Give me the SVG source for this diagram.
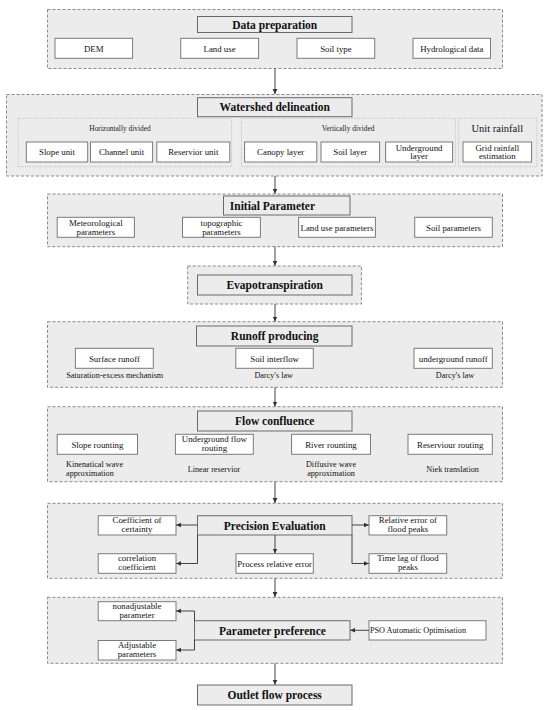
<svg xmlns="http://www.w3.org/2000/svg" width="550" height="710" viewBox="0 0 550 710">
<defs>
<marker id="ah" markerWidth="6" markerHeight="6" refX="5" refY="3" orient="auto" markerUnits="userSpaceOnUse">
<path d="M0,0.6 L5,3 L0,5.4 z" fill="#333"/>
</marker>
<style>
.outer{fill:#ececec;stroke:#8a8a8a;stroke-width:1;stroke-dasharray:3 2}
.grp{fill:#ececec;stroke:#b4b4b4;stroke-width:0.9;stroke-dasharray:1 1.5}
.title{fill:#ececec;stroke:#6a6a6a;stroke-width:1}
.box{fill:#ffffff;stroke:#7a7a7a;stroke-width:1}
.tt{font-family:"Liberation Serif",serif;font-weight:bold;font-size:11.5px;fill:#111;text-anchor:middle}
.t{font-family:"Liberation Serif",serif;font-size:8.8px;fill:#111;text-anchor:middle}
.s{font-family:"Liberation Serif",serif;font-size:8.2px;fill:#111;text-anchor:middle}
.g{font-family:"Liberation Serif",serif;font-size:7.4px;fill:#222;text-anchor:middle}
.u{font-family:"Liberation Serif",serif;font-size:10.5px;fill:#111;text-anchor:middle}
.conn{stroke:#444;stroke-width:1;fill:none}
</style>
</defs>
<rect width="550" height="710" fill="#ffffff"/>

<!-- 1 Data preparation -->
<g id="data-preparation">
<rect class="outer" x="47.5" y="9.5" width="455" height="59"/>
<rect class="title" x="197.5" y="16.5" width="154.5" height="16"/>
<text class="tt" x="274.7" y="28.5">Data preparation</text>
</g>
<g id="dem"><rect class="box" x="55" y="38.3" width="77.6" height="20"/><text class="t" x="93.8" y="51.5">DEM</text></g>
<g id="land-use"><rect class="box" x="180.7" y="38.3" width="77.9" height="20"/><text class="t" x="219.6" y="51.5">Land use</text></g>
<g id="soil-type"><rect class="box" x="297" y="38.3" width="77.7" height="20"/><text class="t" x="335.9" y="51.5">Soil type</text></g>
<g id="hydrological-data"><rect class="box" x="413" y="38.3" width="77.5" height="20"/><text class="t" x="451.8" y="51.5">Hydrological data</text></g>

<!-- 2 Watershed delineation -->
<g id="watershed-delineation">
<rect class="outer" x="6.5" y="94.5" width="535.5" height="81.5"/>
<rect class="title" x="197.5" y="97.7" width="154.5" height="19"/>
<text class="tt" x="274.7" y="111.2">Watershed delineation</text>
</g>
<g id="horizontally-divided">
<rect class="grp" x="18.2" y="118.3" width="213.4" height="48.4"/>
<text class="g" x="120" y="131">Horizontally divided</text>
</g>
<g id="vertically-divided">
<rect class="grp" x="241.4" y="118.3" width="214" height="48.4"/>
<text class="g" x="348" y="131">Vertically divided</text>
</g>
<g id="unit-rainfall">
<rect class="grp" x="458.6" y="118.3" width="78.2" height="48.4"/>
<text class="u" x="497.3" y="131.8">Unit rainfall</text>
</g>
<g id="slope-unit"><rect class="box" x="26.3" y="142" width="61.4" height="20"/><text class="t" x="57" y="155.2">Slope unit</text></g>
<g id="channel-unit"><rect class="box" x="90.5" y="142" width="62.1" height="20"/><text class="t" x="121.5" y="155.2">Channel unit</text></g>
<g id="reservior-unit"><rect class="box" x="156.8" y="142" width="73" height="20"/><text class="t" x="193.3" y="155.2">Reservior unit</text></g>
<g id="canopy-layer"><rect class="box" x="244.6" y="142" width="72.2" height="20"/><text class="t" x="280.7" y="155.2">Canopy layer</text></g>
<g id="soil-layer"><rect class="box" x="321" y="142" width="58.6" height="20"/><text class="t" x="350.3" y="155.2">Soil layer</text></g>
<g id="underground-layer"><rect class="box" x="385.6" y="142" width="67" height="20"/><text class="t" x="419.1" y="150.6">Underground</text><text class="t" x="419.1" y="159.4">layer</text></g>
<g id="grid-rainfall"><rect class="box" x="463" y="142" width="68.6" height="20"/><text class="t" x="497.3" y="150.6">Grid rainfall</text><text class="t" x="497.3" y="159.4">estimation</text></g>

<!-- 3 Initial Parameter -->
<g id="initial-parameter">
<rect class="outer" x="47.5" y="194" width="455" height="52.7"/>
<rect class="title" x="223.5" y="196" width="126.5" height="19"/>
<text class="tt" x="229.8" y="209.5" style="text-anchor:start">Initial Parameter</text>
</g>
<g id="meteorological-parameters"><rect class="box" x="57.2" y="217.3" width="77.2" height="20"/><text class="t" x="95.8" y="226">Meteorological</text><text class="t" x="95.8" y="234.8">parameters</text></g>
<g id="topographic-parameters"><rect class="box" x="182.5" y="217.3" width="77.9" height="20"/><text class="t" x="221.5" y="226">topographic</text><text class="t" x="221.5" y="234.8">parameters</text></g>
<g id="land-use-parameters"><rect class="box" x="298.6" y="217.3" width="76.8" height="20"/><text class="t" x="337" y="230.5">Land use parameters</text></g>
<g id="soil-parameters"><rect class="box" x="414.7" y="217.3" width="77.6" height="20"/><text class="t" x="453.5" y="230.5">Soil parameters</text></g>

<!-- 4 Evapotranspiration -->
<g id="evapotranspiration">
<rect class="outer" x="187.7" y="266" width="173.7" height="38"/>
<rect class="title" x="197.5" y="275" width="154.5" height="20"/>
<text class="tt" x="274.7" y="289">Evapotranspiration</text>
</g>

<!-- 5 Runoff producing -->
<g id="runoff-producing">
<rect class="outer" x="47.5" y="321.7" width="455" height="65.6"/>
<rect class="title" x="196.5" y="326" width="155.5" height="20"/>
<text class="tt" x="274.7" y="340">Runoff producing</text>
</g>
<g id="surface-runoff"><rect class="box" x="75.4" y="348.3" width="77.9" height="20"/><text class="t" x="114.4" y="361.5">Surface runoff</text><text class="s" x="114.7" y="378">Saturation-excess mechanism</text></g>
<g id="soil-interflow"><rect class="box" x="235.8" y="348.3" width="77.5" height="20"/><text class="t" x="274.6" y="361.5">Soil interflow</text><text class="s" x="273.7" y="378">Darcy's law</text></g>
<g id="underground-runoff"><rect class="box" x="414" y="348.3" width="78.3" height="20"/><text class="t" x="453.2" y="361.5">underground runoff</text><text class="s" x="455" y="378">Darcy's law</text></g>

<!-- 6 Flow confluence -->
<g id="flow-confluence">
<rect class="outer" x="47.5" y="406.7" width="455" height="75"/>
<rect class="title" x="197.5" y="411" width="154.5" height="20"/>
<text class="tt" x="274.7" y="425">Flow confluence</text>
</g>
<g id="slope-rounting"><rect class="box" x="57.2" y="434.3" width="80.3" height="20"/><text class="t" x="97.4" y="447.5">Slope rounting</text><text class="s" x="66" y="467.3" style="text-anchor:start">Kinenatical wave</text><text class="s" x="66" y="476.3" style="text-anchor:start">approximation</text></g>
<g id="underground-flow-routing"><rect class="box" x="175.4" y="434.3" width="77.9" height="20"/><text class="t" x="214.4" y="442.4">Underground flow</text><text class="t" x="214.4" y="451.3">routing</text><text class="s" x="214" y="472">Linear reservior</text></g>
<g id="river-rounting"><rect class="box" x="291.6" y="434.3" width="78.9" height="20"/><text class="t" x="331" y="447.5">River rounting</text><text class="s" x="331" y="467.3">Diffusive wave</text><text class="s" x="331" y="476.3">approximation</text></g>
<g id="reserviour-routing"><rect class="box" x="408" y="434.3" width="84.3" height="20"/><text class="t" x="450.2" y="447.5">Reserviour routing</text><text class="s" x="452.6" y="472">Niek translation</text></g>

<!-- 7 Precision Evaluation -->
<g id="precision-evaluation">
<rect class="outer" x="47.5" y="503.3" width="455" height="75"/>
<rect class="title" x="197.5" y="515.7" width="154.5" height="19.3"/>
<text class="tt" x="274.7" y="529.5">Precision Evaluation</text>
</g>
<g id="coefficient-of-certainty"><rect class="box" x="98.2" y="515.7" width="77.8" height="19.3"/><text class="t" x="137" y="523.2">Coefficient of</text><text class="t" x="137" y="532">certainty</text></g>
<g id="relative-error"><rect class="box" x="369" y="515.7" width="77.7" height="19.3"/><text class="t" x="407.9" y="523.2">Relative error of</text><text class="t" x="407.9" y="532">flood peaks</text></g>
<g id="correlation-coefficient"><rect class="box" x="98.2" y="553.7" width="77.8" height="19.6"/><text class="t" x="137" y="561.3">correlation</text><text class="t" x="137" y="570.1">coefficient</text></g>
<g id="process-relative-error"><rect class="box" x="236" y="553.7" width="77.3" height="19.6"/><text class="t" x="274.7" y="566.6">Process relative error</text></g>
<g id="time-lag"><rect class="box" x="369" y="553.7" width="77.7" height="19.6"/><text class="t" x="407.9" y="561.3">Time lag of flood</text><text class="t" x="407.9" y="570.1">peaks</text></g>

<!-- 8 Parameter preference -->
<g id="parameter-preference">
<rect class="outer" x="47.5" y="597.3" width="455" height="66"/>
<rect class="title" x="194.5" y="620.7" width="155.5" height="19.3"/>
<text class="tt" x="272.5" y="634.5">Parameter preference</text>
</g>
<g id="nonadjustable-parameter"><rect class="box" x="98.2" y="601.7" width="77.8" height="19"/><text class="t" x="137" y="609">nonadjustable</text><text class="t" x="137" y="617.8">parameter</text></g>
<g id="adjustable-parameters"><rect class="box" x="98.2" y="640.5" width="77.8" height="19.5"/><text class="t" x="137" y="648">Adjustable</text><text class="t" x="137" y="656.8">parameters</text></g>
<g id="pso"><rect class="box" x="369" y="620.7" width="117" height="19.3"/><text class="s" x="370" y="633.3" style="text-anchor:start">PSO Automatic Optimisation</text></g>

<!-- 9 Outlet -->
<g id="outlet-flow-process">
<rect class="title" x="197.5" y="685" width="154.5" height="20"/>
<text class="tt" x="274.7" y="699">Outlet flow process</text>
</g>

<!-- connectors -->
<g id="connectors" class="conn">
<path d="M275,68.5 V94" marker-end="url(#ah)"/>
<path d="M275,176 V193.8" marker-end="url(#ah)"/>
<path d="M275,246.7 V265.8" marker-end="url(#ah)"/>
<path d="M275,304 V321.5" marker-end="url(#ah)"/>
<path d="M275,387.3 V406.5" marker-end="url(#ah)"/>
<path d="M275,481.7 V503" marker-end="url(#ah)"/>
<path d="M275,578.3 V597" marker-end="url(#ah)"/>
<path d="M275,663.3 V684.8" marker-end="url(#ah)"/>
<path d="M197.5,525 H176.2" marker-end="url(#ah)"/>
<path d="M197.5,535 V563.5 H176.2" marker-end="url(#ah)"/>
<path d="M352,525 H368.8" marker-end="url(#ah)"/>
<path d="M352,535 V563.5 H368.8" marker-end="url(#ah)"/>
<path d="M275,535 V553.5" marker-end="url(#ah)"/>
<path d="M194.5,620.7 V611 H176.2" marker-end="url(#ah)"/>
<path d="M194.5,640 V650 H176.2" marker-end="url(#ah)"/>
<path d="M369,630.3 H350.2" marker-end="url(#ah)"/>
</g>
</svg>
